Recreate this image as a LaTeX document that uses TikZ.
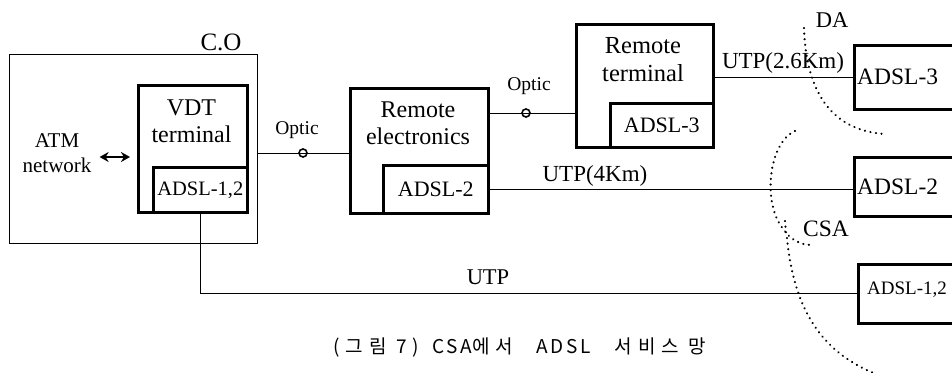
\documentclass[tikz,border=0pt]{standalone}
\usepackage{fontspec}
\setmainfont{Liberation Serif}
\newfontfamily\krfont[LetterSpace=30]{Noto Sans CJK KR}
\newfontfamily\krlatin[LetterSpace=14]{Noto Sans CJK KR}
\usetikzlibrary{arrows.meta}
\begin{document}
\begin{tikzpicture}[x=1pt,y=-1pt,
  cobox/.style={draw, line width=1.3pt, inner sep=0, anchor=north west},
  unit/.style={draw, line width=2.6pt, inner sep=0, anchor=north west},
  subunit/.style={draw, line width=2.6pt, inner sep=0, anchor=north west,
    font=\fontsize{22}{26}\selectfont},
  lbl/.style={font=\fontsize{24}{27}\selectfont, align=center, inner sep=0},
  mid/.style={font=\fontsize{22.5}{26}\selectfont, align=center, inner sep=0},
  small/.style={font=\fontsize{19.5}{23}\selectfont, inner sep=0},
  big/.style={font=\fontsize{23.5}{28}\selectfont, inner sep=0, anchor=west},
  wire/.style={line width=1pt},
  joint/.style={draw, circle, line width=1.6pt, minimum size=8pt, inner sep=0},
  dblarrow/.style={line width=2.4pt, {Stealth[length=9pt,width=10pt]}-{Stealth[length=9pt,width=10pt]}},
  border/.style={line width=2.3pt, line cap=round, dash pattern=on 0.1pt off 5.5pt}
]
\useasboundingbox (0,0) rectangle (952,372);
\clip (0,0) rectangle (952,372);

% central office
\node[cobox, minimum width=248, minimum height=189] (co) at (9,54) {};
\node[mid, font=\fontsize{25}{28}\selectfont] (colbl) at (221,42) {C.O};
\node[mid, font=\fontsize{21}{25}\selectfont] (atm) at (57,153) {ATM\\network};
\node[unit, minimum width=109, minimum height=127] (vdt) at (137,84) {};
\node[lbl] (vdtlbl) at (191.5,121) {VDT\\terminal};
\node[subunit, font=\fontsize{20.5}{24}\selectfont, minimum width=94, minimum height=45] (ad12) at (152,166) {ADSL-1,2};

% remote electronics
\node[unit, minimum width=138, minimum height=125] (re) at (349,87) {};
\node[lbl] (relbl) at (418,123) {Remote\\electronics};
\node[subunit, minimum width=105, minimum height=48] (ad2) at (382,164) {ADSL-2};

% remote terminal
\node[unit, minimum width=137, minimum height=123] (rt) at (575,23) {};
\node[lbl, font=\fontsize{24.5}{28}\selectfont] (rtlbl) at (643,60) {Remote\\terminal};
\node[subunit, minimum width=103, minimum height=44] (ad3) at (609,102) {ADSL-3};

% subscriber side units
\node[unit, minimum width=110, minimum height=64] (a3) at (853,44) {};
\node[big] (a3lbl) at (857,77) {ADSL-3};
\node[unit, minimum width=110, minimum height=59] (a2) at (853,156) {};
\node[big] (a2lbl) at (857,187) {ADSL-2};
\node[unit, minimum width=110, minimum height=59] (a12) at (857,263) {};
\node[small, anchor=west, font=\fontsize{19}{22}\selectfont] (a12lbl) at (867,290) {ADSL-1,2};

% links
\coordinate (arrL) at ([xshift=8pt,yshift=-4pt]atm.east);
\draw[dblarrow] (arrL) -- ([xshift=-7pt]arrL -| vdt.west);

\node[joint] (o1) at (303,153) {};
\node[small] (o1lbl) at (297,130) {Optic};
\draw[wire] (co.east |- o1) -- (re.west |- o1);

\node[joint] (o2) at (526,113) {};
\node[small] (o2lbl) at (529,86) {Optic};
\draw[wire] (re.east |- o2) -- (rt.west |- o2);

\draw[wire] (a3.west -| rt.east) -- (a3.west);
\node[mid, font=\fontsize{23}{26}\selectfont] (utp3) at (783,63) {UTP(2.6Km)};

\draw[wire] (ad2.east) -- (ad2.east -| a2.west);
\node[mid, font=\fontsize{23}{26}\selectfont] (utp2) at (595,176) {UTP(4Km)};

\draw[wire] (ad12.south) |- (a12.west);
\node[mid] (utp1) at (488,277) {UTP};

% service area boundaries
\draw[border] (804,28) .. controls (806,90) and (830,130) .. (884,134);
\node[mid] (da) at (832,20) {DA};
\draw[border] (795,131) .. controls (768,143) and (762,205) .. (784,230)
  .. controls (790,239) and (800,245) .. (812,245);
\draw[border] (785,221) -- (786,233);
\draw[border] (787,238) .. controls (793,300) and (815,350) .. (876,374);
\node[mid, font=\fontsize{23.5}{27}\selectfont] (csa) at (826,229) {CSA};

% caption
\node[font=\krfont\fontsize{19}{22}\selectfont, inner sep=0] (cap) at (520,347)
  {(그림 7)\hspace{3pt} {\krlatin CSA}에서\hspace{14pt} {\krlatin ADSL}\hspace{14pt} 서비스 망};
\end{tikzpicture}
\end{document}
